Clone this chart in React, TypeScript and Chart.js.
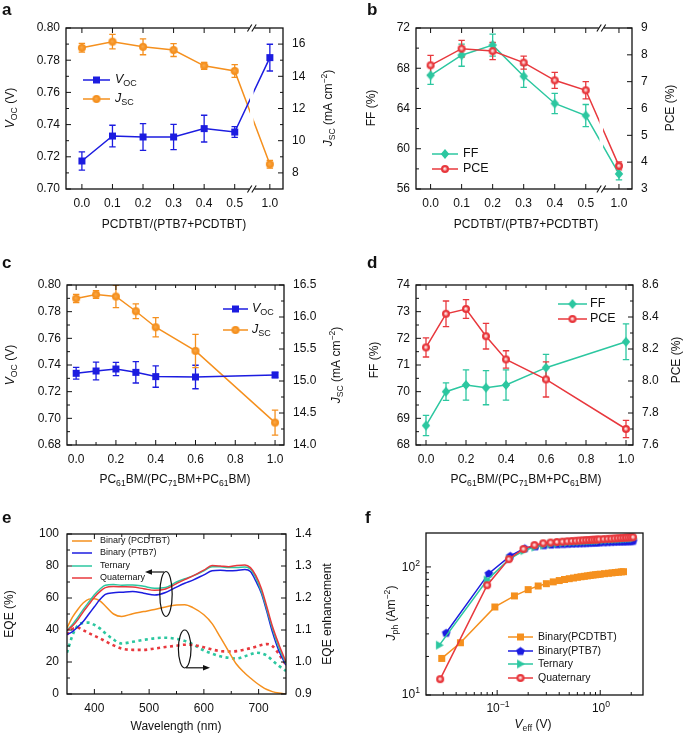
import React, { useEffect, useRef } from "react";
import { Chart, registerables } from "chart.js";
Chart.register(...registerables);

const W = 685;
const H = 734;
const FONT = '"Liberation Sans", Arial, Helvetica, sans-serif';

const BLUE = "#1c1ce0";
const ORANGE = "#f5901e";
const TEAL = "#2cc7a0";
const RED = "#e8383d";

// ---------- Panel a ----------
const catsA = [0.0, 0.1, 0.2, 0.3, 0.4, 0.5, 1.0];
const vocA = [0.7174, 0.7329, 0.7323, 0.7323, 0.7375, 0.7354, 0.7816];
const vocErrA = [0.0057, 0.0067, 0.0083, 0.0079, 0.0083, 0.0033, 0.0083];
const jscA = [15.77, 16.15, 15.83, 15.63, 14.65, 14.33, 8.54];
const jscErrA = [0.27, 0.45, 0.49, 0.4, 0.22, 0.4, 0.24];
const yTicksA = [0.7, 0.72, 0.74, 0.76, 0.78, 0.8];
const yMinorA = [0.71, 0.73, 0.75, 0.77, 0.79];
const y2TicksA = [8, 10, 12, 14, 16];
const y2MinorA = [9, 11, 13, 15];

// ---------- Panel b ----------
const catsB = [0.0, 0.1, 0.2, 0.3, 0.4, 0.5, 1.0];
const ffB = [67.3, 69.3, 70.3, 67.2, 64.5, 63.3, 57.5];
const ffErrB = [0.9, 1.1, 1.1, 1.1, 1.0, 1.1, 0.6];
const pceB = [7.61, 8.23, 8.14, 7.71, 7.05, 6.68, 3.86];
const pceErrB = [0.37, 0.31, 0.32, 0.24, 0.3, 0.32, 0.15];
const yTicksB = [56, 60, 64, 68, 72];
const yMinorB = [58, 62, 66, 70];
const y2TicksB = [3, 4, 5, 6, 7, 8, 9];

// ---------- Panel c ----------
const catsC = [0.0, 0.1, 0.2, 0.3, 0.4, 0.6, 1.0];
const vocC = [0.7338, 0.7355, 0.737, 0.7345, 0.7313, 0.731, 0.7325];
const vocErrC = [0.0044, 0.0066, 0.005, 0.008, 0.008, 0.0088, 0.002];
const jscC = [16.29, 16.35, 16.32, 16.09, 15.84, 15.47, 14.35];
const jscErrC = [0.065, 0.06, 0.175, 0.115, 0.15, 0.26, 0.195];
const xTicksCD = [0, 0.2, 0.4, 0.6, 0.8, 1.0];
const xMinorCD = [0.1, 0.3, 0.5, 0.7, 0.9];
const yTicksC = [0.68, 0.7, 0.72, 0.74, 0.76, 0.78, 0.8];
const yMinorC = [0.69, 0.71, 0.73, 0.75, 0.77, 0.79];
const y2TicksC = [14.0, 14.5, 15.0, 15.5, 16.0, 16.5];
const y2MinorC = [14.25, 14.75, 15.25, 15.75, 16.25];

// ---------- Panel d ----------
const catsD = [0.0, 0.1, 0.2, 0.3, 0.4, 0.6, 1.0];
const ffD = [68.73, 70.0, 70.25, 70.15, 70.25, 70.9, 71.87];
const ffErrD = [0.38, 0.33, 0.57, 0.64, 0.57, 0.5, 0.67];
const pceD = [8.21, 8.42, 8.45, 8.28, 8.135, 8.01, 7.7];
const pceErrD = [0.06, 0.08, 0.058, 0.08, 0.054, 0.11, 0.054];
const yTicksD = [68, 69, 70, 71, 72, 73, 74];
const yMinorD = [68.5, 69.5, 70.5, 71.5, 72.5, 73.5];
const y2TicksD = [7.6, 7.8, 8.0, 8.2, 8.4, 8.6];
const y2MinorD = [7.7, 7.9, 8.1, 8.3, 8.5];

// ---------- Panel e ----------
const wlE = [350, 360, 370, 380, 390, 400, 410, 420, 435, 450, 470, 490, 510, 530, 550, 565, 580, 600, 615, 630, 645, 660, 675, 685, 695, 705, 715, 725, 737, 750];
const eqePCDTBT = [41.4, 48, 53, 57, 59.3, 59.6, 58.2, 55, 50, 48.5, 50.2, 51.5, 52.8, 54.4, 55.6, 55.8, 54, 49.5, 44, 35.5, 26.8, 18.4, 13, 10, 7.2, 4.8, 2.8, 1.5, 0.6, 0];
const eqePTB7 = [37.2, 39, 42, 45.5, 50, 54.5, 59, 62.3, 63.3, 63.6, 64, 63, 61.8, 63.4, 66.8, 69.2, 71.2, 74.5, 77, 77.4, 77, 77.2, 77.8, 76.5, 70.5, 63, 51.5, 39, 27, 18];
const eqeTernary = [40, 43.5, 48, 53, 57.5, 62, 65.5, 68, 68.4, 68, 68.2, 67.3, 66.1, 66.6, 70, 72, 73.8, 77, 79.5, 79.5, 79, 79, 79.3, 78, 72.5, 64, 53, 41, 29, 19];
const eqeQuaternary = [39.7, 42.5, 46.5, 51.5, 56, 60.5, 64, 66.5, 67.2, 67, 66.8, 65.8, 64.8, 65.6, 69, 71.5, 73.8, 77.4, 80.3, 80, 79.5, 80.3, 80.7, 79, 74, 66, 54.5, 42.5, 31, 20];
const enhTernary = [1.029, 1.083, 1.115, 1.122, 1.123, 1.116, 1.105, 1.09, 1.07, 1.058, 1.063, 1.069, 1.074, 1.076, 1.072, 1.066, 1.055, 1.036, 1.026, 1.018, 1.013, 1.011, 1.018, 1.024, 1.029, 1.027, 1.02, 1.005, 0.988, 0.972];
const enhQuaternary = [1.086, 1.103, 1.107, 1.099, 1.09, 1.082, 1.074, 1.065, 1.052, 1.042, 1.038, 1.038, 1.042, 1.047, 1.051, 1.054, 1.053, 1.046, 1.039, 1.034, 1.033, 1.034, 1.039, 1.043, 1.048, 1.053, 1.056, 1.05, 1.025, 0.99];
const xTicksE = [400, 500, 600, 700];
const xMinorE = [450, 550, 650];
const yTicksE = [0, 20, 40, 60, 80, 100];
const yMinorE = [10, 30, 50, 70, 90];
const y2TicksE = [0.9, 1.0, 1.1, 1.2, 1.3, 1.4];
const y2MinorE = [0.95, 1.05, 1.15, 1.25, 1.35];

// ---------- Panel f ----------
const fxPCDTBT = [0.029, 0.044, 0.095, 0.147, 0.2, 0.25, 0.3, 0.35, 0.4, 0.45, 0.5, 0.55, 0.6, 0.65, 0.7, 0.75, 0.8, 0.85, 0.9, 0.95, 1.0, 1.1, 1.2, 1.3, 1.4, 1.5, 1.6, 1.68];
const fyPCDTBT = [19.3, 25.6, 48.7, 59.4, 66.5, 71, 74, 76.5, 78.3, 79.8, 81, 82, 83, 83.8, 84.5, 85.2, 85.8, 86.4, 86.9, 87.4, 87.8, 88.6, 89.3, 89.9, 90.5, 91, 91.5, 91.8];
const fxPTB7 = [0.032, 0.083, 0.134, 0.185, 0.235, 0.285, 0.335, 0.385, 0.435, 0.485, 0.535, 0.585, 0.635, 0.685, 0.735, 0.785, 0.835, 0.885, 0.935, 0.985, 1.085, 1.185, 1.285, 1.385, 1.485, 1.585, 1.685, 1.785, 1.885, 1.985, 2.085];
const fyPTB7 = [30.6, 89, 122, 140, 145, 148, 149.5, 150.5, 151.3, 152, 152.6, 153.1, 153.6, 154, 154.4, 154.8, 155.1, 155.4, 155.7, 156, 156.5, 157, 157.4, 157.8, 158.2, 158.5, 158.8, 159.1, 159.4, 159.7, 160];
const fxTernary = [0.0275, 0.08, 0.131, 0.182, 0.232, 0.282, 0.332, 0.382, 0.432, 0.482, 0.532, 0.582, 0.632, 0.682, 0.732, 0.782, 0.832, 0.882, 0.932, 0.982, 1.082, 1.182, 1.282, 1.382, 1.482, 1.582, 1.682, 1.782, 1.882, 1.982, 2.082];
const fyTernary = [24.5, 79, 115, 134, 143, 148, 151, 153, 154.5, 155.5, 156.3, 157, 157.7, 158.3, 158.9, 159.4, 159.9, 160.4, 160.8, 161.2, 162, 162.7, 163.4, 164, 164.6, 165.2, 165.7, 166.2, 166.7, 167.1, 167.5];
const fxQuaternary = [0.028, 0.08, 0.13, 0.18, 0.23, 0.28, 0.33, 0.38, 0.43, 0.48, 0.53, 0.58, 0.63, 0.68, 0.73, 0.78, 0.83, 0.88, 0.93, 0.98, 1.08, 1.18, 1.28, 1.38, 1.48, 1.58, 1.68, 1.78, 1.88, 1.98, 2.08];
const fyQuaternary = [13.3, 72, 115, 138, 148, 153, 155, 156.5, 157.5, 158.5, 159.3, 160, 160.7, 161.3, 161.9, 162.4, 162.9, 163.3, 163.7, 164.1, 164.9, 165.6, 166.3, 166.9, 167.5, 168.1, 168.7, 169.2, 169.7, 170.2, 170.6];
const xMajorF = [0.1, 1];
const xMinorF = [0.03, 0.04, 0.05, 0.06, 0.07, 0.08, 0.09, 0.2, 0.3, 0.4, 0.5, 0.6, 0.7, 0.8, 0.9, 2];
const yMajorF = [10, 100];
const yMinorF = [20, 30, 40, 50, 60, 70, 80, 90];

// ---------- helpers ----------
type Seg = { t: string; sub?: boolean; sup?: boolean; it?: boolean; b?: boolean };
type Rich = { segs: Seg[]; x: number; y: number; size: number; align?: "left" | "center" | "right"; rot?: number };
type LegendItem = { segs: Seg[]; color: string; marker?: HTMLCanvasElement; x1: number; x2: number; y: number; tx: number; size: number };
type TickPair = [number[], number[]];
type Spec = {
  errs?: { ds: number; e: number[] }[];
  ticks: { x: TickPair; y: TickPair; y2?: TickPair; mirrorX?: boolean };
  brk?: number;
  legend?: LegendItem[];
  texts: Rich[];
  extra?: (ctx: CanvasRenderingContext2D) => void;
};

function drawRich(ctx: CanvasRenderingContext2D, r: Rich) {
  const size = r.size;
  ctx.save();
  ctx.translate(r.x, r.y);
  ctx.rotate(r.rot || 0);
  ctx.fillStyle = "#111";
  ctx.textBaseline = "middle";
  ctx.textAlign = "left";
  const fontOf = (s: Seg) =>
    `${s.it ? "italic " : ""}${s.b ? "bold " : ""}${s.sub || s.sup ? size * 0.72 : size}px ${FONT}`;
  let total = 0;
  const widths = r.segs.map((s) => {
    ctx.font = fontOf(s);
    const w = ctx.measureText(s.t).width;
    total += w;
    return w;
  });
  const align = r.align || "left";
  let cx = align === "left" ? 0 : align === "center" ? -total / 2 : -total;
  r.segs.forEach((s, i) => {
    ctx.font = fontOf(s);
    const dy = s.sub ? size * 0.3 : s.sup ? -size * 0.36 : 0;
    ctx.fillText(s.t, cx, dy);
    cx += widths[i];
  });
  ctx.restore();
}

function mk(shape: string, color: string, size: number): HTMLCanvasElement {
  const c = document.createElement("canvas");
  const d = Math.ceil(size) + 2;
  c.width = d;
  c.height = d;
  const g = c.getContext("2d")!;
  const m = d / 2;
  const r = size / 2;
  g.fillStyle = color;
  g.beginPath();
  if (shape === "square") g.rect(m - r, m - r, size, size);
  else if (shape === "circle" || shape === "ball") g.arc(m, m, r, 0, Math.PI * 2);
  else if (shape === "diamond") {
    g.moveTo(m, m - r);
    g.lineTo(m + r * 0.85, m);
    g.lineTo(m, m + r);
    g.lineTo(m - r * 0.85, m);
    g.closePath();
  } else if (shape === "pentagon") {
    for (let k = 0; k < 5; k++) {
      const a = -Math.PI / 2 + (k * 2 * Math.PI) / 5;
      const px = m + r * Math.cos(a);
      const py = m + r * Math.sin(a) + r * 0.1;
      if (k === 0) g.moveTo(px, py);
      else g.lineTo(px, py);
    }
    g.closePath();
  } else if (shape === "tri") {
    g.moveTo(m + r, m);
    g.lineTo(m - r * 0.75, m - r);
    g.lineTo(m - r * 0.75, m + r);
    g.closePath();
  }
  g.fill();
  if (shape === "ball") {
    const gr = g.createRadialGradient(m - 0.4, m - 0.4, 0, m, m, r * 0.6);
    gr.addColorStop(0, "#fff4f4");
    gr.addColorStop(0.5, "#f7b0b0");
    gr.addColorStop(1, color);
    g.fillStyle = gr;
    g.beginPath();
    g.arc(m, m, r * 0.6, 0, Math.PI * 2);
    g.fill();
  }
  if (shape === "circle") {
    const gr = g.createRadialGradient(m - 0.5, m - 0.5, 0, m, m, r * 0.7);
    gr.addColorStop(0, "rgba(255,200,130,0.45)");
    gr.addColorStop(1, "rgba(255,200,130,0)");
    g.fillStyle = gr;
    g.beginPath();
    g.arc(m, m, r, 0, Math.PI * 2);
    g.fill();
  }
  return c;
}

function deco(spec: Spec) {
  return {
    id: "deco",
    beforeDatasetsDraw(chart: any) {
      const ctx: CanvasRenderingContext2D = chart.ctx;
      const a = chart.chartArea;
      if (!spec.errs) return;
      ctx.save();
      ctx.beginPath();
      ctx.rect(a.left, a.top, a.right - a.left, a.bottom - a.top);
      ctx.clip();
      spec.errs.forEach(({ ds, e }) => {
        const d = chart.data.datasets[ds];
        const xs = chart.scales.x;
        const ys = chart.scales[d.yAxisID || "y"];
        ctx.strokeStyle = d.borderColor;
        ctx.lineWidth = 1.3;
        d.data.forEach((p: any, i: number) => {
          const px = xs.getPixelForValue(p.x);
          const y1 = ys.getPixelForValue(p.y + e[i]);
          const y2 = ys.getPixelForValue(p.y - e[i]);
          ctx.beginPath();
          ctx.moveTo(px, y1);
          ctx.lineTo(px, y2);
          ctx.moveTo(px - 3.2, y1);
          ctx.lineTo(px + 3.2, y1);
          ctx.moveTo(px - 3.2, y2);
          ctx.lineTo(px + 3.2, y2);
          ctx.stroke();
        });
      });
      ctx.restore();
    },
    afterDatasetsDraw(chart: any) {
      const ctx: CanvasRenderingContext2D = chart.ctx;
      const a = chart.chartArea;
      const xs = chart.scales.x;
      ctx.save();
      let bx = 0;
      if (spec.brk !== undefined) {
        bx = xs.getPixelForValue(spec.brk);
        ctx.fillStyle = "#fff";
        ctx.fillRect(bx - 1.8, a.top + 1, 3.6, a.bottom - a.top - 2);
      }
      ctx.strokeStyle = "#111";
      ctx.lineWidth = 1.3;
      ctx.strokeRect(a.left, a.top, a.right - a.left, a.bottom - a.top);
      ctx.lineWidth = 1;
      const tx = (vals: number[], len: number) => {
        vals.forEach((v) => {
          const px = xs.getPixelForValue(v);
          ctx.beginPath();
          ctx.moveTo(px, a.bottom);
          ctx.lineTo(px, a.bottom - len);
          if (spec.ticks.mirrorX !== false) {
            ctx.moveTo(px, a.top);
            ctx.lineTo(px, a.top + len);
          }
          ctx.stroke();
        });
      };
      tx(spec.ticks.x[0], 5);
      tx(spec.ticks.x[1], 3);
      const ty = (scale: any, vals: number[], len: number, right: boolean) => {
        vals.forEach((v) => {
          const py = scale.getPixelForValue(v);
          ctx.beginPath();
          if (right) {
            ctx.moveTo(a.right, py);
            ctx.lineTo(a.right - len, py);
          } else {
            ctx.moveTo(a.left, py);
            ctx.lineTo(a.left + len, py);
          }
          ctx.stroke();
        });
      };
      ty(chart.scales.y, spec.ticks.y[0], 5, false);
      ty(chart.scales.y, spec.ticks.y[1], 3, false);
      if (spec.ticks.y2) {
        ty(chart.scales.y2, spec.ticks.y2[0], 5, true);
        ty(chart.scales.y2, spec.ticks.y2[1], 3, true);
      }
      if (spec.brk !== undefined) {
        ctx.fillStyle = "#fff";
        [a.top, a.bottom].forEach((yy: number) => {
          ctx.fillRect(bx - 2.5, yy - 2, 5, 4);
          ctx.strokeStyle = "#111";
          ctx.lineWidth = 1.1;
          [-2.2, 2.2].forEach((o) => {
            ctx.beginPath();
            ctx.moveTo(bx + o - 2.2, yy + 3.5);
            ctx.lineTo(bx + o + 2.2, yy - 3.5);
            ctx.stroke();
          });
        });
      }
      (spec.legend || []).forEach((L) => {
        ctx.save();
        ctx.strokeStyle = L.color;
        ctx.lineWidth = 1.5;
        ctx.beginPath();
        ctx.moveTo(L.x1, L.y);
        ctx.lineTo(L.x2, L.y);
        ctx.stroke();
        ctx.restore();
        if (L.marker) {
          ctx.drawImage(L.marker, (L.x1 + L.x2) / 2 - L.marker.width / 2, L.y - L.marker.height / 2);
        }
        drawRich(ctx, { segs: L.segs, x: L.tx, y: L.y, size: L.size, align: "left" });
      });
      if (spec.extra) spec.extra(ctx);
      spec.texts.forEach((t) => drawRich(ctx, t));
      ctx.restore();
    },
  };
}

function axis(o: {
  pos: "left" | "right" | "bottom";
  min: number;
  max: number;
  ticks: number[];
  fmt: (v: number) => string;
  pad: number;
  size: number;
  show?: boolean;
  type?: string;
}) {
  return {
    type: o.type || "linear",
    position: o.pos,
    min: o.min,
    max: o.max,
    grid: { display: false, drawTicks: false },
    border: { display: false },
    afterBuildTicks: (s: any) => {
      s.ticks = o.ticks.map((v) => ({ value: v }));
    },
    afterFit: (s: any) => {
      if (o.pos === "bottom") s.height = o.size;
      else s.width = o.size;
    },
    ticks: {
      display: o.show !== false,
      padding: o.pad,
      autoSkip: false,
      maxRotation: 0,
      minRotation: 0,
      font: { family: FONT, size: 12 },
      color: "#111",
      callback: (v: any) => o.fmt(Number(v)),
    },
  };
}

function pad(L: number, T: number, R: number, B: number, twoY: boolean) {
  return { left: L - 40, top: T, right: W - R - (twoY ? 40 : 0), bottom: H - B - 30 };
}

function baseOptions(padding: any, scales: any) {
  return {
    responsive: false,
    animation: false,
    events: [],
    layout: { padding },
    plugins: { legend: { display: false }, tooltip: { enabled: false } },
    scales,
  };
}

function lineDs(xs: number[], ys: number[], color: string, marker: HTMLCanvasElement | null, yAxisID: string, extra: any = {}) {
  return {
    data: xs.map((x, i) => ({ x, y: ys[i] })),
    borderColor: color,
    backgroundColor: color,
    borderWidth: 1.5,
    pointStyle: marker || "circle",
    pointRadius: marker ? 4 : 0,
    yAxisID,
    tension: 0,
    ...extra,
  };
}

const label = (t: string, x: number, y: number): Rich => ({ segs: [{ t, b: true }], x, y, size: 17, align: "left" });
const VOC: Seg[] = [{ t: "V", it: true }, { t: "OC", sub: true }];
const JSC: Seg[] = [{ t: "J", it: true }, { t: "SC", sub: true }];
const JSC_T: Seg[] = [...JSC, { t: " (mA cm" }, { t: "−2", sup: true }, { t: ")" }];
const PCBM_T: Seg[] = [
  { t: "PC" }, { t: "61", sub: true }, { t: "BM/(PC" }, { t: "71", sub: true },
  { t: "BM+PC" }, { t: "61", sub: true }, { t: "BM)" },
];
const ROT = -Math.PI / 2;

function cfgA() {
  const POS1 = 0.615;
  const xp = catsA.map((c) => (c === 1 ? POS1 : c));
  const sq = mk("square", BLUE, 7);
  const ci = mk("circle", ORANGE, 8);
  return {
    type: "line",
    data: {
      datasets: [
        lineDs(xp, vocA, BLUE, sq, "y", { order: 0 }),
        lineDs(xp, jscA, ORANGE, ci, "y2", { order: 1 }),
      ],
    },
    options: baseOptions(pad(66, 28, 283, 189, true), {
      x: axis({ pos: "bottom", min: -0.052, max: 0.658, ticks: xp, fmt: (v) => (Math.abs(v - POS1) < 1e-6 ? "1.0" : v.toFixed(1)), pad: 7, size: 30 }),
      y: axis({ pos: "left", min: 0.7, max: 0.8, ticks: yTicksA, fmt: (v) => v.toFixed(2), pad: 6, size: 40 }),
      y2: axis({ pos: "right", min: 7, max: 17, ticks: y2TicksA, fmt: (v) => String(v), pad: 9, size: 40 }),
    }),
    plugins: [
      deco({
        errs: [{ ds: 0, e: vocErrA }, { ds: 1, e: jscErrA }],
        ticks: { x: [xp, []], y: [yTicksA, yMinorA], y2: [y2TicksA, y2MinorA] },
        brk: 0.556,
        legend: [
          { segs: VOC, color: BLUE, marker: sq, x1: 83, x2: 110, y: 80, tx: 115, size: 12.5 },
          { segs: JSC, color: ORANGE, marker: ci, x1: 83, x2: 110, y: 99, tx: 115, size: 12.5 },
        ],
        texts: [
          label("a", 2, 10),
          { segs: [...VOC, { t: " (V)" }], x: 11, y: 108, size: 12, align: "center", rot: ROT },
          { segs: JSC_T, x: 329, y: 108, size: 12, align: "center", rot: ROT },
          { segs: [{ t: "PCDTBT/(PTB7+PCDTBT)" }], x: 174, y: 225, size: 12, align: "center" },
        ],
      }),
    ],
  };
}

function cfgB() {
  const POS1 = 0.607;
  const xp = catsB.map((c) => (c === 1 ? POS1 : c));
  const di = mk("diamond", TEAL, 10);
  const ba = mk("ball", RED, 8);
  return {
    type: "line",
    data: {
      datasets: [
        lineDs(xp, ffB, TEAL, di, "y", { order: 1 }),
        lineDs(xp, pceB, RED, ba, "y2", { order: 0 }),
      ],
    },
    options: baseOptions(pad(416, 28, 632, 189, true), {
      x: axis({ pos: "bottom", min: -0.047, max: 0.649, ticks: xp, fmt: (v) => (Math.abs(v - POS1) < 1e-6 ? "1.0" : v.toFixed(1)), pad: 7, size: 30 }),
      y: axis({ pos: "left", min: 56, max: 72, ticks: yTicksB, fmt: (v) => String(v), pad: 6, size: 40 }),
      y2: axis({ pos: "right", min: 3, max: 9, ticks: y2TicksB, fmt: (v) => String(v), pad: 9, size: 40 }),
    }),
    plugins: [
      deco({
        errs: [{ ds: 0, e: ffErrB }, { ds: 1, e: pceErrB }],
        ticks: { x: [xp, []], y: [yTicksB, yMinorB], y2: [y2TicksB, []] },
        brk: 0.55,
        legend: [
          { segs: [{ t: "FF" }], color: TEAL, marker: di, x1: 432, x2: 458, y: 154, tx: 463, size: 12.5 },
          { segs: [{ t: "PCE" }], color: RED, marker: ba, x1: 432, x2: 458, y: 169, tx: 463, size: 12.5 },
        ],
        texts: [
          label("b", 367, 10),
          { segs: [{ t: "FF (%)" }], x: 372, y: 108, size: 12, align: "center", rot: ROT },
          { segs: [{ t: "PCE (%)" }], x: 671, y: 108, size: 12, align: "center", rot: ROT },
          { segs: [{ t: "PCDTBT/(PTB7+PCDTBT)" }], x: 526, y: 225, size: 12, align: "center" },
        ],
      }),
    ],
  };
}

function cfgC() {
  const sq = mk("square", BLUE, 7);
  const ci = mk("circle", ORANGE, 8);
  return {
    type: "line",
    data: {
      datasets: [
        lineDs(catsC, vocC, BLUE, sq, "y", { order: 0 }),
        lineDs(catsC, jscC, ORANGE, ci, "y2", { order: 1 }),
      ],
    },
    options: baseOptions(pad(67, 285, 284, 445, true), {
      x: axis({ pos: "bottom", min: -0.046, max: 1.045, ticks: xTicksCD, fmt: (v) => v.toFixed(1), pad: 7, size: 30 }),
      y: axis({ pos: "left", min: 0.68, max: 0.8, ticks: yTicksC, fmt: (v) => v.toFixed(2), pad: 6, size: 40 }),
      y2: axis({ pos: "right", min: 14, max: 16.5, ticks: y2TicksC, fmt: (v) => v.toFixed(1), pad: 9, size: 40 }),
    }),
    plugins: [
      deco({
        errs: [{ ds: 0, e: vocErrC }, { ds: 1, e: jscErrC }],
        ticks: { x: [xTicksCD, xMinorCD], y: [yTicksC, yMinorC], y2: [y2TicksC, y2MinorC] },
        legend: [
          { segs: VOC, color: BLUE, marker: sq, x1: 223, x2: 248, y: 309, tx: 252, size: 12.5 },
          { segs: JSC, color: ORANGE, marker: ci, x1: 223, x2: 248, y: 330, tx: 252, size: 12.5 },
        ],
        texts: [
          label("c", 2, 263),
          { segs: [...VOC, { t: " (V)" }], x: 11, y: 365, size: 12, align: "center", rot: ROT },
          { segs: JSC_T, x: 337, y: 365, size: 12, align: "center", rot: ROT },
          { segs: PCBM_T, x: 175, y: 480, size: 12, align: "center" },
        ],
      }),
    ],
  };
}

function cfgD() {
  const di = mk("diamond", TEAL, 10);
  const ba = mk("ball", RED, 8);
  return {
    type: "line",
    data: {
      datasets: [
        lineDs(catsD, ffD, TEAL, di, "y", { order: 1 }),
        lineDs(catsD, pceD, RED, ba, "y2", { order: 0 }),
      ],
    },
    options: baseOptions(pad(416, 285, 633, 445, true), {
      x: axis({ pos: "bottom", min: -0.05, max: 1.035, ticks: xTicksCD, fmt: (v) => v.toFixed(1), pad: 7, size: 30 }),
      y: axis({ pos: "left", min: 68, max: 74, ticks: yTicksD, fmt: (v) => String(v), pad: 6, size: 40 }),
      y2: axis({ pos: "right", min: 7.6, max: 8.6, ticks: y2TicksD, fmt: (v) => v.toFixed(1), pad: 9, size: 40 }),
    }),
    plugins: [
      deco({
        errs: [{ ds: 0, e: ffErrD }, { ds: 1, e: pceErrD }],
        ticks: { x: [xTicksCD, xMinorCD], y: [yTicksD, yMinorD], y2: [y2TicksD, y2MinorD] },
        legend: [
          { segs: [{ t: "FF" }], color: TEAL, marker: di, x1: 558, x2: 587, y: 304, tx: 590, size: 12.5 },
          { segs: [{ t: "PCE" }], color: RED, marker: ba, x1: 558, x2: 587, y: 319, tx: 590, size: 12.5 },
        ],
        texts: [
          label("d", 367, 263),
          { segs: [{ t: "FF (%)" }], x: 375, y: 360, size: 12, align: "center", rot: ROT },
          { segs: [{ t: "PCE (%)" }], x: 677, y: 360, size: 12, align: "center", rot: ROT },
          { segs: PCBM_T, x: 526, y: 480, size: 12, align: "center" },
        ],
      }),
    ],
  };
}

function cfgE() {
  const smooth = { cubicInterpolationMode: "monotone" };
  return {
    type: "line",
    data: {
      datasets: [
        lineDs(wlE, eqePCDTBT, ORANGE, null, "y", { ...smooth, order: 4 }),
        lineDs(wlE, eqePTB7, BLUE, null, "y", { ...smooth, order: 3 }),
        lineDs(wlE, eqeTernary, TEAL, null, "y", { ...smooth, order: 2 }),
        lineDs(wlE, eqeQuaternary, RED, null, "y", { ...smooth, order: 1 }),
        lineDs(wlE, enhTernary, TEAL, null, "y2", { ...smooth, borderDash: [3, 3.5], borderWidth: 2.6, order: 6 }),
        lineDs(wlE, enhQuaternary, RED, null, "y2", { ...smooth, borderDash: [3, 3.5], borderWidth: 2.6, order: 5 }),
      ],
    },
    options: baseOptions(pad(67, 534, 286, 694, true), {
      x: axis({ pos: "bottom", min: 350, max: 750, ticks: xTicksE, fmt: (v) => String(v), pad: 7, size: 30 }),
      y: axis({ pos: "left", min: 0, max: 100, ticks: yTicksE, fmt: (v) => String(v), pad: 8, size: 40 }),
      y2: axis({ pos: "right", min: 0.9, max: 1.4, ticks: y2TicksE, fmt: (v) => v.toFixed(1), pad: 9, size: 40 }),
    }),
    plugins: [
      deco({
        ticks: { x: [xTicksE, xMinorE], y: [yTicksE, yMinorE], y2: [y2TicksE, y2MinorE] },
        legend: [
          { segs: [{ t: "Binary (PCDTBT)" }], color: ORANGE, x1: 72, x2: 92, y: 541, tx: 100, size: 9 },
          { segs: [{ t: "Binary (PTB7)" }], color: BLUE, x1: 72, x2: 92, y: 553, tx: 100, size: 9 },
          { segs: [{ t: "Ternary" }], color: TEAL, x1: 72, x2: 92, y: 566, tx: 100, size: 9 },
          { segs: [{ t: "Quaternary" }], color: RED, x1: 72, x2: 92, y: 578, tx: 100, size: 9 },
        ],
        extra: (ctx) => {
          ctx.save();
          ctx.strokeStyle = "#111";
          ctx.fillStyle = "#111";
          ctx.lineWidth = 1.2;
          ctx.beginPath();
          ctx.ellipse(166, 594, 6.2, 22.5, 0, 0, Math.PI * 2);
          ctx.stroke();
          ctx.beginPath();
          ctx.ellipse(184.7, 649, 6.3, 19, 0, 0, Math.PI * 2);
          ctx.stroke();
          ctx.beginPath();
          ctx.moveTo(164, 572);
          ctx.lineTo(151, 572);
          ctx.stroke();
          ctx.beginPath();
          ctx.moveTo(145, 572);
          ctx.lineTo(152, 569.3);
          ctx.lineTo(152, 574.7);
          ctx.closePath();
          ctx.fill();
          ctx.beginPath();
          ctx.moveTo(186, 667.8);
          ctx.lineTo(204, 667.8);
          ctx.stroke();
          ctx.beginPath();
          ctx.moveTo(210, 667.8);
          ctx.lineTo(203, 665.1);
          ctx.lineTo(203, 670.5);
          ctx.closePath();
          ctx.fill();
          ctx.restore();
        },
        texts: [
          label("e", 2, 518),
          { segs: [{ t: "EQE (%)" }], x: 10, y: 614, size: 12, align: "center", rot: ROT },
          { segs: [{ t: "EQE enhancement" }], x: 328, y: 614, size: 12, align: "center", rot: ROT },
          { segs: [{ t: "Wavelength (nm)" }], x: 176, y: 727, size: 12, align: "center" },
        ],
      }),
    ],
  };
}

function cfgF() {
  const sq = mk("square", ORANGE, 7);
  const pe = mk("pentagon", BLUE, 9);
  const tr = mk("tri", TEAL, 9);
  const ba = mk("ball", RED, 8);
  const ten = (e: string): Seg[] => [{ t: "10" }, { t: e, sup: true }];
  return {
    type: "line",
    data: {
      datasets: [
        lineDs(fxPCDTBT, fyPCDTBT, ORANGE, sq, "y", { order: 3 }),
        lineDs(fxPTB7, fyPTB7, BLUE, pe, "y", { order: 2 }),
        lineDs(fxTernary, fyTernary, TEAL, tr, "y", { order: 1 }),
        lineDs(fxQuaternary, fyQuaternary, RED, ba, "y", { order: 0 }),
      ],
    },
    options: baseOptions(pad(426, 533, 643, 695, false), {
      x: axis({ type: "logarithmic", pos: "bottom", min: 0.0204, max: 2.6, ticks: xMajorF, fmt: (v) => String(v), pad: 7, size: 30, show: false }),
      y: axis({ type: "logarithmic", pos: "left", min: 10, max: 184, ticks: yMajorF, fmt: (v) => String(v), pad: 6, size: 40, show: false }),
    }),
    plugins: [
      deco({
        ticks: { x: [xMajorF, xMinorF], y: [yMajorF, yMinorF], mirrorX: false },
        legend: [
          { segs: [{ t: "Binary(PCDTBT)" }], color: ORANGE, marker: sq, x1: 508, x2: 533, y: 637, tx: 538, size: 10.5 },
          { segs: [{ t: "Binary(PTB7)" }], color: BLUE, marker: pe, x1: 508, x2: 533, y: 651, tx: 538, size: 10.5 },
          { segs: [{ t: "Ternary" }], color: TEAL, marker: tr, x1: 508, x2: 533, y: 664, tx: 538, size: 10.5 },
          { segs: [{ t: "Quaternary" }], color: RED, marker: ba, x1: 508, x2: 533, y: 678, tx: 538, size: 10.5 },
        ],
        texts: [
          label("f", 365, 518),
          { segs: ten("−1"), x: 498, y: 709, size: 12, align: "center" },
          { segs: ten("0"), x: 601, y: 709, size: 12, align: "center" },
          { segs: ten("2"), x: 420, y: 568, size: 12, align: "right" },
          { segs: ten("1"), x: 420, y: 695, size: 12, align: "right" },
          { segs: [{ t: "J", it: true }, { t: "ph", sub: true }, { t: " (Am" }, { t: "−2", sup: true }, { t: ")" }], x: 392, y: 613, size: 12, align: "center", rot: ROT },
          { segs: [{ t: "V", it: true }, { t: "eff", sub: true }, { t: " (V)" }], x: 533, y: 725, size: 12, align: "center" },
        ],
      }),
    ],
  };
}

function Panel({ make }: { make: () => any }) {
  const ref = useRef<HTMLCanvasElement>(null);
  useEffect(() => {
    const chart = new Chart(ref.current as HTMLCanvasElement, make());
    return () => chart.destroy();
  }, []);
  return (
    <canvas
      ref={ref}
      width={W}
      height={H}
      style={{ position: "absolute", left: 0, top: 0, width: W, height: H }}
    />
  );
}

export default function App() {
  return (
    <div style={{ position: "absolute", left: 0, top: 0, width: W, height: H, background: "#fff", overflow: "hidden" }}>
      <Panel make={cfgA} />
      <Panel make={cfgB} />
      <Panel make={cfgC} />
      <Panel make={cfgD} />
      <Panel make={cfgE} />
      <Panel make={cfgF} />
    </div>
  );
}
